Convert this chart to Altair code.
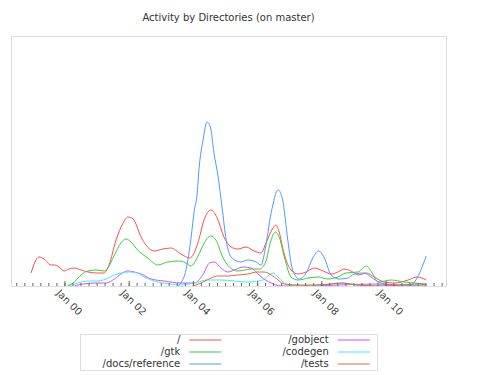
import altair as alt
import pandas as pd

# ---- data (x as decimal year, y as activity) ----
names = ["/", "/gtk", "/docs/reference", "/gobject", "/codegen", "/tests"]
colors = ["#ff4d4d", "#3ccc3c", "#4d9bff", "#d050ff", "#40eeee", "#e06a3a"]

root_x = [1998.94, 1999.19, 1999.35, 1999.56, 1999.69, 1999.81, 1999.97, 2000.12, 2000.28, 2000.50,
          2000.72, 2000.97, 2001.21, 2001.37, 2001.59, 2001.81, 2001.96, 2002.12, 2002.37, 2002.52,
          2002.77, 2003.05, 2003.30, 2003.61, 2003.89, 2004.14, 2004.33, 2004.55, 2004.74, 2004.95,
          2005.17, 2005.39, 2005.64, 2005.89, 2006.11, 2006.26, 2006.48, 2006.57, 2006.67, 2006.82,
          2007.04, 2007.26, 2007.51, 2007.76, 2008.04, 2008.29, 2008.50, 2008.69, 2008.91, 2009.13,
          2009.38, 2009.63, 2009.94, 2010.25, 2010.69, 2010.97, 2011.25]
root_y = [13, 29, 27, 21, 21, 19, 15, 17, 18, 16,
          14, 13, 13, 21, 46, 63, 69, 67, 49, 41,
          35, 37, 38, 32, 28, 43, 66, 76, 68, 49,
          39, 37, 39, 35, 33, 43, 58, 61, 54, 33,
          16, 12, 14, 18, 15, 12, 14, 17, 15, 11,
          13, 9, 4, 3, 6, 9, 6]

gtk_x = [2000.08, 2000.29, 2000.50, 2000.71, 2000.97, 2001.22, 2001.33, 2001.54, 2001.74, 2001.90,
         2002.06, 2002.26, 2002.58, 2002.89, 2003.20, 2003.56, 2003.77, 2003.93, 2004.13, 2004.34,
         2004.53, 2004.70, 2004.91, 2005.12, 2005.38, 2005.59, 2005.79, 2006.05, 2006.25, 2006.40,
         2006.56, 2006.68, 2006.84, 2007.04, 2007.26, 2007.57, 2007.88, 2008.19, 2008.50, 2008.75,
         2009.13, 2009.38, 2009.57, 2009.75, 2010.16, 2010.56, 2010.87, 2011.25]
gtk_y = [0, 4, 11, 15, 16, 15, 18, 31, 43, 47,
         44, 36, 28, 21, 24, 25, 23, 20, 29, 43,
         50, 46, 29, 19, 15, 16, 17, 17, 24, 44,
         54, 48, 28, 9, 6, 8, 9, 7, 9, 13,
         14, 20, 13, 4, 6, 4, 3, 2]

docs_x = [2003.51, 2003.61, 2003.77, 2003.93, 2004.03, 2004.11, 2004.18, 2004.30, 2004.42, 2004.52,
          2004.64, 2004.77, 2004.89, 2005.02, 2005.17, 2005.48, 2005.70, 2005.95, 2006.11, 2006.23,
          2006.42, 2006.64, 2006.78, 2006.94, 2007.09, 2007.30, 2007.51, 2007.72, 2007.90, 2008.08,
          2008.29, 2008.55, 2008.81, 2009.01, 2009.32, 2009.53, 2009.84, 2010.36, 2010.78, 2010.93,
          2011.25]
docs_y = [0, 3, 16, 49, 76, 90, 119, 146, 164, 160,
          133, 109, 79, 46, 29, 24, 26, 24, 21, 36,
          73, 96, 86, 46, 16, 7, 13, 28, 35, 28,
          11, 7, 8, 12, 13, 9, 3, 1, 1, 6,
          30]

gobject_x = [2000.29, 2000.55, 2001.02, 2001.28, 2001.54, 2001.74, 2001.95, 2002.16, 2002.37, 2002.68,
             2003.09, 2003.61, 2004.03, 2004.29, 2004.50, 2004.65, 2004.86, 2005.07, 2005.27, 2005.56,
             2005.79, 2006.11, 2006.42, 2006.73, 2007.35, 2008.50, 2009.70, 2010.30, 2011.25]
gobject_y = [0, 2, 3, 3, 7, 12, 15, 14, 12, 7,
             5, 3, 3, 11, 23, 24, 18, 14, 16, 19,
             18, 9, 3, 0, 0, 1, 2, 1, 0]

codegen_x = [2000.13, 2000.40, 2000.71, 2001.02, 2001.28, 2001.54, 2001.74, 2002.00, 2002.26, 2002.47,
             2002.89, 2003.30, 2003.61, 2004.03, 2004.45, 2004.86, 2005.27, 2005.69, 2006.00, 2006.17,
             2006.32, 2006.48, 2006.63, 2006.95, 2007.35, 2007.98, 2008.60, 2008.91, 2009.22, 2011.25]
codegen_y = [0, 3, 5, 5, 7, 11, 13, 14, 13, 9,
             4, 2, 1, 3, 6, 6, 5, 4, 5, 6,
             10, 13, 9, 1, 0, 1, 3, 2, 0, 0]

tests_x = [2003.98, 2004.24, 2004.55, 2004.76, 2005.07, 2005.38, 2005.69, 2006.00, 2006.21, 2006.52,
           2006.83, 2007.25, 2007.76, 2008.29, 2008.60, 2009.12, 2009.84, 2010.47, 2010.99, 2011.25]
tests_y = [0, 3, 8, 10, 10, 11, 12, 14, 14, 9,
           2, 1, 1, 2, 3, 1, 0, 1, 2, 1]

label_dates = ["2000-01-01", "2002-01-01", "2004-01-01", "2006-01-01", "2008-01-01", "2010-01-01"]
label_texts = ["Jan 00", "Jan 02", "Jan 04", "Jan 06", "Jan 08", "Jan 10"]
x_domain = ["1998-04-27", "2011-11-14"]


def to_date(y):
    yr = int(y)
    frac = y - yr
    start = pd.Timestamp(year=yr, month=1, day=1)
    end = pd.Timestamp(year=yr + 1, month=1, day=1)
    return start + (end - start) * frac


series = [(root_x, root_y), (gtk_x, gtk_y), (docs_x, docs_y),
          (gobject_x, gobject_y), (codegen_x, codegen_y), (tests_x, tests_y)]
rows = []
for name, (xs, ys) in zip(names, series):
    for xv, yv in zip(xs, ys):
        rows.append({"dir": name, "date": to_date(xv), "value": yv})
df = pd.DataFrame(rows)

quarter_ticks = pd.DataFrame({"date": pd.date_range("1998-07-01", "2011-10-01", freq="QS")})
labels_df = pd.DataFrame({"date": pd.to_datetime(label_dates), "label": label_texts})

W, H = 435, 250
FONT = "DejaVu Sans"

xscale = alt.Scale(domain=x_domain, nice=False)
color_scale = alt.Scale(domain=names, range=colors)

lines = alt.Chart(df).mark_line(strokeWidth=1, interpolate="monotone", clip=True).encode(
    x=alt.X("date:T", scale=xscale, axis=None),
    y=alt.Y("value:Q", scale=alt.Scale(domain=[0, 250], nice=False), axis=None),
    color=alt.Color("dir:N", scale=color_scale, legend=None),
    detail="dir:N",
)

# minor (quarterly) ticks, pointing into the plot
minor = alt.Chart(quarter_ticks).mark_rule(color="#666", strokeWidth=1).encode(
    x=alt.X("date:T", scale=xscale, axis=None),
    y=alt.value(H),
    y2=alt.value(H - 3),
)
# major ticks at labelled dates
major = alt.Chart(labels_df).mark_rule(color="#666", strokeWidth=1).encode(
    x=alt.X("date:T", scale=xscale, axis=None),
    y=alt.value(H),
    y2=alt.value(H - 5),
)
# rotated tick labels
labels = alt.Chart(labels_df).mark_text(
    angle=45, align="left", baseline="top", fontSize=10, font=FONT, color="#444",
    dx=-1, dy=4).encode(
    x=alt.X("date:T", scale=xscale, axis=None),
    y=alt.value(H),
    text="label:N",
)

top = alt.layer(lines, minor, major, labels).properties(width=W, height=H)

# ---- custom legend (label then swatch, two columns) ----
leg_df = pd.DataFrame({
    "dir": names,
    "col": [i // 3 for i in range(len(names))],
    "row": [i % 3 for i in range(len(names))],
})
lx = alt.X("col:O", axis=None, scale=alt.Scale(paddingInner=0, paddingOuter=0))
ly = alt.Y("row:O", axis=None, scale=alt.Scale(paddingInner=0, paddingOuter=0))
leg_text = alt.Chart(leg_df).mark_text(align="right", baseline="middle", dx=26,
                                        fontSize=10, font=FONT, color="#333").encode(
    x=lx, y=ly, text="dir:N")
leg_swatch = alt.Chart(leg_df).mark_tick(orient="horizontal", size=32, thickness=1,
                                          xOffset=51, opacity=1).encode(
    x=lx, y=ly, color=alt.Color("dir:N", scale=color_scale, legend=None))
legend = alt.layer(leg_text, leg_swatch).properties(width=297, height=36)

chart = alt.vconcat(top, legend, spacing=48, center=True, bounds="flush").properties(
    title=alt.TitleParams("Activity by Directories (on master)", fontSize=10, font=FONT,
                          fontWeight="normal", color="#333", anchor="middle", offset=13),
    padding={"left": 2, "top": 4, "right": 0, "bottom": 0},
).configure_view(stroke="#888", strokeWidth=1).configure(font=FONT)

chart.save("out.html", embed_options={"renderer": "svg", "actions": False})
